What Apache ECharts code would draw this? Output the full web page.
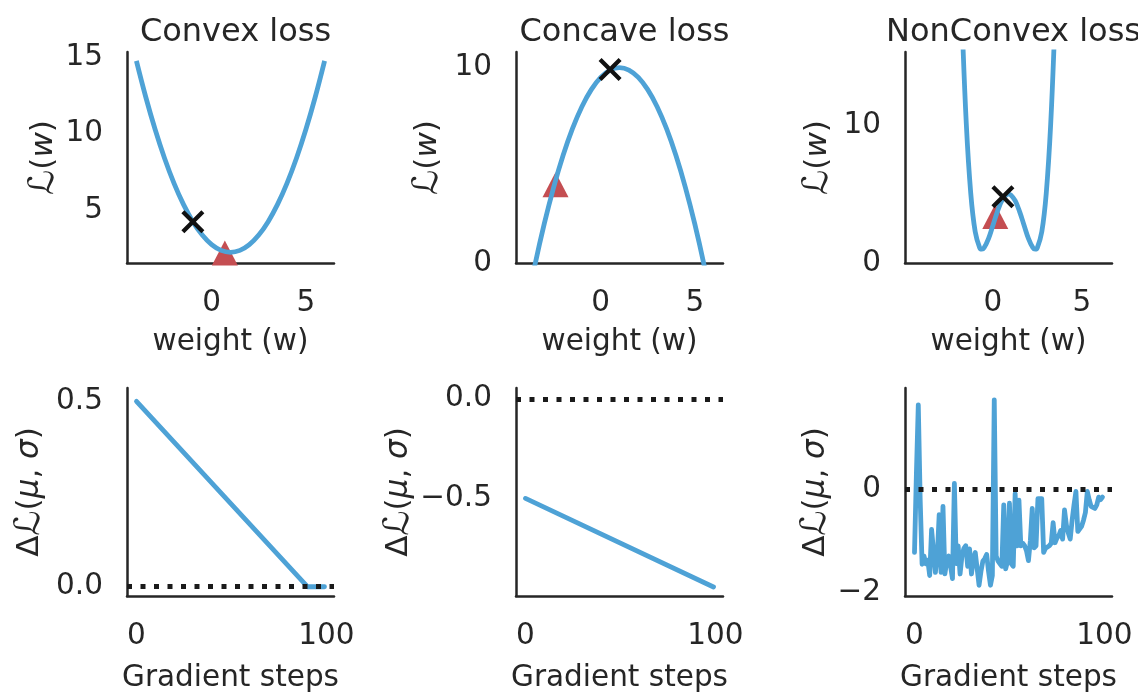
<!DOCTYPE html>
<html><head><meta charset="utf-8">
<script src="https://cdn.jsdelivr.net/npm/echarts@6/dist/echarts.min.js"></script>
<style>html,body{margin:0;padding:0;background:#fff}#c{width:1138px;height:694px}</style>
</head><body><div id="c"></div>
<script>
// ---------- data ----------
const titles = ['Convex loss', 'Concave loss', 'NonConvex loss'];
const wGrid = [-4, -3.5, -3, -2.5, -2, -1.5, -1, -0.5, 0, 0.5, 1, 1.5, 2, 2.5, 3, 3.5, 4, 4.5, 5, 5.5, 6];
const convexLoss = [14.75, 12.375, 10.25, 8.375, 6.75, 5.375, 4.25, 3.375, 2.75, 2.375, 2.25, 2.375, 2.75, 3.375, 4.25, 5.375, 6.75, 8.375, 10.25, 12.375, 14.75];
const concaveLoss = [-2.5, -0.125, 2, 3.875, 5.5, 6.875, 8, 8.875, 9.5, 9.875, 10, 9.875, 9.5, 8.875, 8, 6.875, 5.5, 3.875, 2, -0.125, -2.5];
const nonconvexW = [-1.75, -1.5, -1.25, -1, -0.75, -0.625, -0.5, -0.25, 0, 0.25, 0.5, 0.75, 0.875, 1, 1.25, 1.5, 1.75, 2, 2.25, 2.375, 2.5, 2.75, 3, 3.25, 3.5];
const nonconvexLoss = [18.0, 10.08, 5.06, 2.27, 1.12, 1.0, 1.10, 1.77, 2.74, 3.73, 4.52, 4.94, 5.0, 4.94, 4.52, 3.73, 2.74, 1.77, 1.10, 1.0, 1.12, 2.27, 5.06, 10.08, 18.0];
// markers: [w, loss]
const crossMarks = [[-1, 4.25], [0.5, 9.9], [0.56, 4.8]];
const triangleMarks = [[0.7, 2.2], [-2.4, 4.0], [0.13, 3.37]];
// bottom row
const convexSteps = [0, 90, 99];
const convexDelta = [0.5, 0, 0];
const concaveSteps = [0, 99];
const concaveDelta = [-0.5, -0.945];
const nonconvexDelta = [
  -1.23, 0.3, 1.65, -0.2, -1.46, -1.3, -1.45, -1.38, -1.68, -0.78,
  -0.78, -1.62, -1.3, -0.49, -1.62, -0.33, -1.65, -1.4, -1.3, -1.5,
  -1.74, 0.12, -1.45, -1.1, -1.65, -1.3, -1.15, -1.1, -1.5, -1.16,
  -1.65, -1.35, -1.23, -1.55, -1.87, -1.6, -1.4, -1.35, -1.27, -1.6,
  -1.87, -1.68, 1.75, -1.3, -1.4, -1.45, -1.5, -0.3, -1.55, -1.4,
  -0.27, -1.45, -1.5, -0.08, -1.1, -0.21, -1.1, -1.05, -1.1, -1.2,
  -1.39, -1.0, -0.37, -1.14, -1.1, -0.18, -0.2, -0.18, -1.23, -1.15,
  -1.15, -1.1, -1.05, -0.65, -1.04, -0.95, -0.9, -0.8, -0.97, -0.4,
  -0.7, -0.85, -0.97, -0.6, -0.3, -0.04, -0.82, -0.8, -0.72, -0.6,
  -0.45, -0.04, -0.2, -0.33, -0.3, -0.37, -0.3, -0.15, -0.2, -0.15
];
const topXTicks = [0, 5];
const topYTicks = [[5, 10, 15], [0, 10], [0, 10]];
const bottomXTicks = [0, 100];
const bottomYTicks = [[0, 0.5], [0, -0.5], [0, -2]];

// ---------- style ----------
const FONT = 'DejaVu Sans';
const FS = 29.5;
const TFS = 32;
const INK = '#262626';
const BLUE = '#4ea2d6';
const RED = '#c44e52';
const lefts = [127, 516, 905];
const W = 207, H = 211;
const tops = [52, 388];

const ranges = [
  {x: [-4.5, 6.5], y: [1.55, 15.33]},
  {x: [-4.5, 6.5], y: [0, 10.8]},
  {x: [-4.95, 6.7], y: [0, 15.3]},
  {x: [-5, 104], y: [-0.025, 0.536]},
  {x: [-5, 104], y: [-0.99, 0.054]},
  {x: [-5, 104], y: [-2.08, 1.98]}
];
const yNameGaps = [62, 71, 70, 80, 99, 70];

const minus = v => (v < 0 ? '\u2212' + Math.abs(v) : '' + v);
const yFormatters = [minus, minus, minus,
  v => (v < 0 ? '\u2212' : '') + Math.abs(v).toFixed(1),
  v => (v < 0 ? '\u2212' : '') + Math.abs(v).toFixed(1),
  minus];

const grids = [], xAxes = [], yAxes = [], series = [];
const txt = {fontFamily: FONT, fontSize: FS, color: INK};
for (let i = 0; i < 6; i++) {
  const row = i < 3 ? 0 : 1, col = i % 3;
  grids.push({left: lefts[col], top: tops[row], width: W, height: H, containLabel: false});
  xAxes.push({
    type: 'value', gridIndex: i, min: ranges[i].x[0], max: ranges[i].x[1],
    axisLine: {show: true, onZero: false, lineStyle: {color: INK, width: 2.5}},
    axisTick: {show: false}, splitLine: {show: false},
    axisLabel: Object.assign({customValues: row === 0 ? topXTicks : bottomXTicks, margin: 25, formatter: minus}, txt),
    name: row === 0 ? 'weight (w)' : 'Gradient steps',
    nameLocation: 'middle', nameGap: row === 0 ? 64 : 67, nameTextStyle: txt
  });
  const yName = row === 0 ? '{L|ℒ}{n|(}{i|w}{n|)}' : '{n|Δ}{L|ℒ}{n|(}{i|μ}{n|, }{i|σ}{n|)}';
  yAxes.push({
    type: 'value', gridIndex: i, min: ranges[i].y[0], max: ranges[i].y[1],
    axisLine: {show: true, onZero: false, lineStyle: {color: INK, width: 2.5}},
    axisTick: {show: false}, splitLine: {show: false},
    axisLabel: Object.assign({customValues: row === 0 ? topYTicks[col] : bottomYTicks[col], margin: 24, formatter: yFormatters[i]}, txt),
    name: yName, nameLocation: 'middle', nameRotate: 90, nameGap: yNameGaps[i],
    nameTextStyle: Object.assign({}, txt, {rich: {
      n: {fontFamily: FONT, fontSize: 31, color: INK},
      L: {fontFamily: FONT, fontSize: 35, color: INK},
      i: {fontFamily: FONT, fontSize: 31, color: INK, fontStyle: 'italic'}
    }})
  });
}

const crossPath = 'path://M0,13L13,0L50,37L87,0L100,13L63,50L100,87L87,100L50,63L13,100L0,87L37,50Z';
const topCurves = [
  wGrid.map((w, k) => [w, convexLoss[k]]),
  wGrid.map((w, k) => [w, concaveLoss[k]]),
  nonconvexW.map((w, k) => [w, nonconvexLoss[k]])
];
for (let c = 0; c < 3; c++) {
  series.push({type: 'scatter', xAxisIndex: c, yAxisIndex: c, data: [triangleMarks[c]],
    symbol: 'triangle', symbolSize: [26, 25], itemStyle: {color: RED, opacity: 1}, z: 2, clip: false});
  series.push({type: 'line', xAxisIndex: c, yAxisIndex: c, data: topCurves[c], smooth: 0.4,
    symbol: 'none', lineStyle: {color: BLUE, width: 4.8}, z: 3, clip: true});
  series.push({type: 'scatter', xAxisIndex: c, yAxisIndex: c, data: [crossMarks[c]],
    symbol: crossPath, symbolSize: 23, itemStyle: {color: '#111', opacity: 1}, z: 4});
}
const bottomData = [
  convexSteps.map((s, k) => [s, convexDelta[k]]),
  concaveSteps.map((s, k) => [s, concaveDelta[k]]),
  nonconvexDelta.map((v, k) => [k, v])
];
for (let c = 0; c < 3; c++) {
  series.push({type: 'line', xAxisIndex: 3 + c, yAxisIndex: 3 + c, data: bottomData[c],
    symbol: 'none', lineStyle: {color: BLUE, width: 4.8, join: 'round', cap: 'round'}, z: 3,
    markLine: {silent: true, symbol: ['none', 'none'], label: {show: false}, z: 5,
      lineStyle: {color: '#1a1a1a', width: 5, type: [5, 8.5], cap: 'butt'},
      emphasis: {disabled: true},
      data: [{yAxis: 0}]}
  });
}

const titleOpts = titles.map((t, c) => ({text: t, left: lefts[c] + W / 2, top: 12, textAlign: 'center',
  textStyle: {fontFamily: FONT, fontSize: TFS, fontWeight: 'normal', color: INK}}));

const chart = echarts.init(document.getElementById('c'), null, {renderer: 'canvas'});
chart.setOption({
  animation: false, backgroundColor: '#fff',
  title: titleOpts, grid: grids, xAxis: xAxes, yAxis: yAxes, series: series
});
</script></body></html>
